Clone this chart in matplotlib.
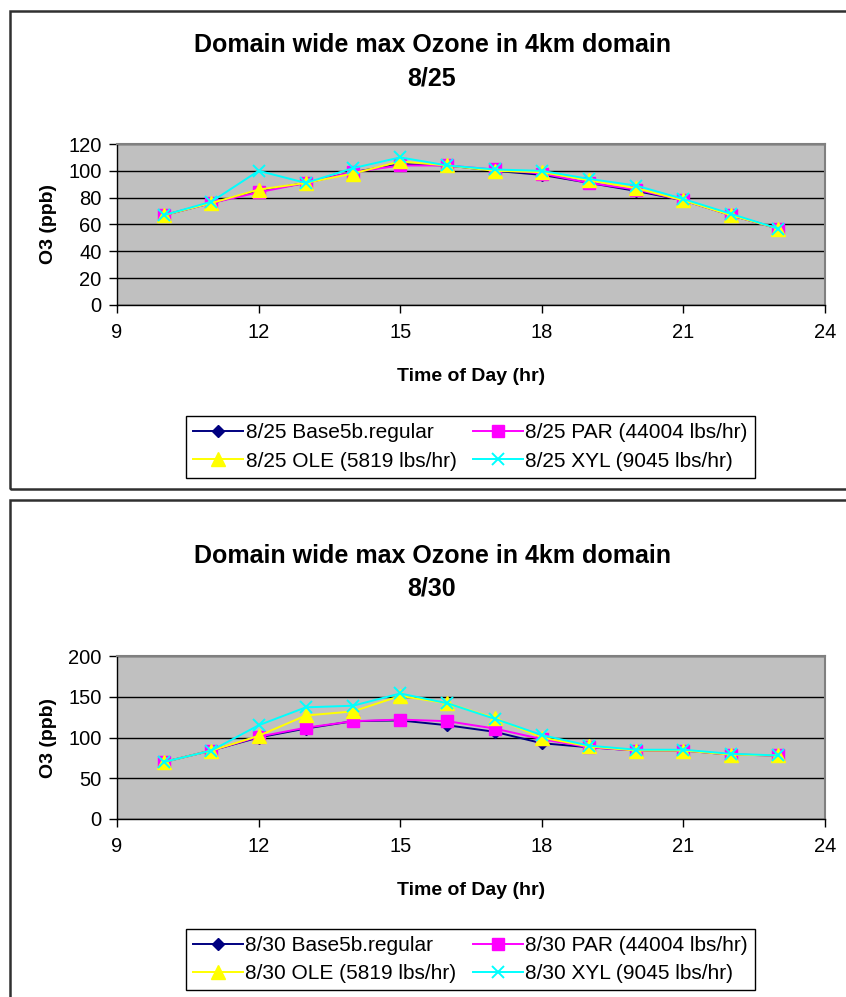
import matplotlib
matplotlib.use("Agg")
import matplotlib.pyplot as plt
from matplotlib.patches import Rectangle

plt.rcParams['font.family'] = ['Liberation Sans', 'DejaVu Sans']

hours = [10, 11, 12, 13, 14, 15, 16, 17, 18, 19, 20, 21, 22, 23]

# 8/25 episode
base_0825 = [67, 76, 85, 91, 99, 105, 104, 100, 97, 91, 85, 78, 67, 57]
par_0825 = [67, 76, 84, 91, 99, 104, 104, 101, 98, 91, 86, 78, 67, 57]
ole_0825 = [67, 76, 86, 91, 98, 107, 104, 100, 99, 93, 87, 78, 67, 57]
xyl_0825 = [67, 77, 100, 91, 102, 110, 104, 101, 100, 94, 89, 79, 68, 57]

# 8/30 episode
base_0830 = [70, 84, 100, 111, 120, 121, 115, 107, 93, 88, 84, 84, 79, 78]
par_0830 = [70, 84, 101, 112, 120, 122, 120, 111, 98, 88, 84, 84, 79, 78]
ole_0830 = [70, 84, 102, 127, 132, 151, 142, 124, 100, 89, 84, 84, 79, 78]
xyl_0830 = [70, 84, 115, 137, 139, 154, 142, 123, 103, 90, 85, 85, 80, 78]

series_labels = ["Base5b.regular", "PAR (44004 lbs/hr)",
                 "OLE (5819 lbs/hr)", "XYL (9045 lbs/hr)"]
x_ticks = [9, 12, 15, 18, 21, 24]

W, H = 846, 997
fig = plt.figure(figsize=(W / 100, H / 100), dpi=100)


def fx(px):
    return px / W


def fy(py):
    return 1 - py / H


styles = [
    dict(color="#000080", marker="D", markersize=6, markerfacecolor="#000080", markeredgecolor="#000080"),
    dict(color="#FF00FF", marker="s", markersize=8, markerfacecolor="#FF00FF", markeredgecolor="#FF00FF"),
    dict(color="#FFFF00", marker="^", markersize=9.5, markerfacecolor="#FFFF00", markeredgecolor="#FFFF00"),
    dict(color="#00FFFF", marker="x", markersize=8.5, markeredgecolor="#00FFFF", markeredgewidth=1.4),
]

# outer chart frames
fig.patches.append(Rectangle((fx(10), fy(489)), fx(850) - fx(10), fy(11) - fy(489),
                             transform=fig.transFigure, fill=False,
                             edgecolor="#303030", linewidth=1.8))
fig.patches.append(Rectangle((fx(10), fy(1005)), fx(850) - fx(10), fy(500) - fy(1005),
                             transform=fig.transFigure, fill=False,
                             edgecolor="#303030", linewidth=1.8))


def draw_panel(date, data, ymax, ystep, top_px, bot_px, title_y, legend_box):
    left_px, right_px = 117, 825
    ax = fig.add_axes([fx(left_px), fy(bot_px), fx(right_px) - fx(left_px), fy(top_px) - fy(bot_px)])
    ax.set_facecolor("#C0C0C0")
    handles = []
    for vals, st, lab in zip(data, styles, series_labels):
        h, = ax.plot(hours, vals, linewidth=1.4, label=f"{date} {lab}", zorder=3, **st)
        handles.append(h)
    ax.set_xlim(9, 24)
    ax.set_ylim(0, ymax)
    ax.set_xticks(x_ticks)
    ax.set_yticks(range(0, ymax + 1, ystep))
    ax.yaxis.grid(True, color="black", linewidth=1.0, zorder=1)
    ax.set_axisbelow(True)
    for s in ("top", "right"):
        ax.spines[s].set_color("#808080")
        ax.spines[s].set_linewidth(1.5)
    for s in ("left", "bottom"):
        ax.spines[s].set_color("black")
        ax.spines[s].set_linewidth(1.0)
    ax.tick_params(direction="out", length=6, width=1, labelsize=14.5, colors="black")
    ax.tick_params(axis="x", pad=7)
    ax.tick_params(axis="y", pad=5)
    ax.set_xlabel("Time of Day (hr)", fontsize=14, fontweight="bold", labelpad=19)
    ax.set_ylabel("O3 (ppb)", fontsize=14, fontweight="bold", labelpad=8)

    fig.text(fx(432), fy(title_y), "Domain wide max Ozone in 4km domain",
             ha="center", va="center", fontsize=18, fontweight="bold")
    fig.text(fx(432), fy(title_y + 33), date,
             ha="center", va="center", fontsize=18, fontweight="bold")

    lx0, ly0, lx1, ly1 = legend_box
    order = [0, 2, 1, 3]
    leg = fig.legend([handles[i] for i in order], [handles[i].get_label() for i in order],
                     ncol=2, loc="center",
                     bbox_to_anchor=(fx(lx0), fy(ly1), fx(lx1) - fx(lx0), fy(ly0) - fy(ly1)),
                     bbox_transform=fig.transFigure,
                     fontsize=15, frameon=True, fancybox=False, edgecolor="black",
                     framealpha=1, handlelength=2.4, handletextpad=0.1,
                     columnspacing=0.8, labelspacing=0.45, borderpad=0.35)
    leg.get_frame().set_linewidth(1.0)
    return ax


draw_panel("8/25", [base_0825, par_0825, ole_0825, xyl_0825], 120, 20,
           144, 305, 45, (189, 411, 752, 483))
draw_panel("8/30", [base_0830, par_0830, ole_0830, xyl_0830], 200, 50,
           656, 819, 556, (189, 923, 752, 996))

fig.savefig("out.png", dpi=100)
